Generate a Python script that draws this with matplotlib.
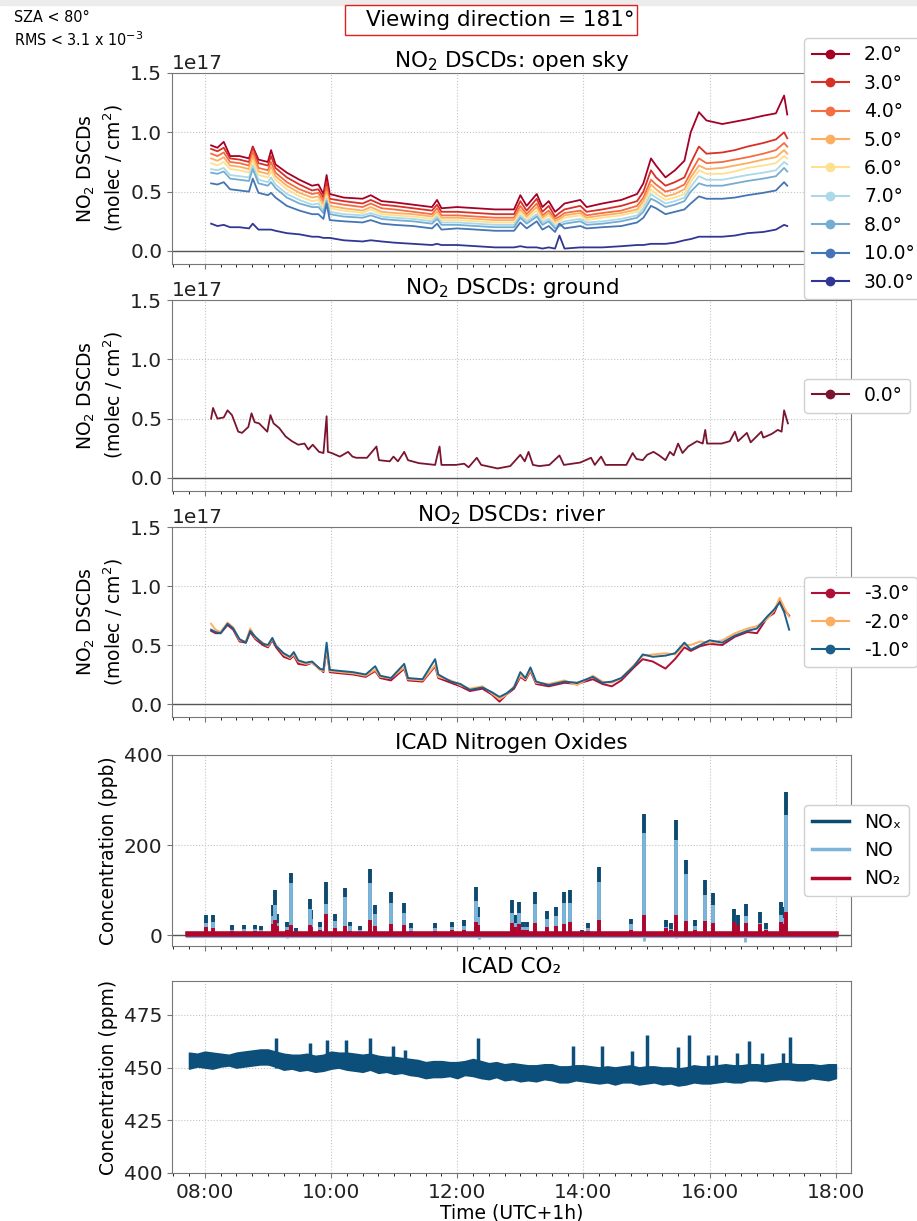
import numpy as np
import matplotlib
matplotlib.use('Agg')
import matplotlib.pyplot as plt
from matplotlib.lines import Line2D
from matplotlib.patches import Rectangle
from matplotlib.ticker import MultipleLocator, FuncFormatter

# ---------------- data (time in hours, UTC+1h) ----------------
# NO2 DSCDs open sky, values in 1e17 molec/cm2
t_sky = [8.10, 8.20, 8.30, 8.40, 8.55, 8.70, 8.76, 8.85, 9.00, 9.05, 9.12, 9.30, 9.50, 9.70, 9.80,
         9.88, 9.93, 9.98, 10.20, 10.50, 10.63, 10.80, 11.00, 11.30, 11.60, 11.68, 11.75, 12.00, 12.30, 12.60,
         12.90, 13.00, 13.10, 13.26, 13.35, 13.45, 13.55, 13.62, 13.70, 13.95, 14.05, 14.30, 14.60, 14.85, 14.95,
         15.07, 15.15, 15.30, 15.45, 15.60, 15.70, 15.83, 15.95, 16.20, 16.40, 16.60, 16.85, 17.05, 17.18, 17.23]
sky_angles = ['2.0°', '3.0°', '4.0°', '5.0°', '6.0°', '7.0°', '8.0°', '10.0°', '30.0°']
sky_colors = ['#a50026', '#d73027', '#f46d43', '#fdae61', '#fee090', '#abd9e9', '#74add1', '#4575b4', '#313695']
sky_2 = [0.89, 0.87, 0.92, 0.80, 0.80, 0.78, 0.88, 0.77, 0.75, 0.85, 0.73, 0.66, 0.60, 0.55, 0.56,
         0.48, 0.64, 0.48, 0.45, 0.44, 0.47, 0.42, 0.41, 0.39, 0.37, 0.43, 0.36, 0.37, 0.36, 0.35,
         0.35, 0.47, 0.38, 0.48, 0.37, 0.42, 0.33, 0.36, 0.40, 0.43, 0.37, 0.40, 0.43, 0.48, 0.57,
         0.78, 0.72, 0.62, 0.68, 0.76, 1.00, 1.17, 1.10, 1.07, 1.09, 1.11, 1.14, 1.16, 1.31, 1.15]
sky_3 = [0.86, 0.84, 0.87, 0.78, 0.77, 0.75, 0.87, 0.74, 0.72, 0.80, 0.70, 0.62, 0.56, 0.51, 0.52,
         0.45, 0.58, 0.44, 0.42, 0.40, 0.43, 0.39, 0.38, 0.36, 0.34, 0.39, 0.33, 0.33, 0.32, 0.31,
         0.31, 0.42, 0.34, 0.44, 0.33, 0.38, 0.29, 0.32, 0.35, 0.38, 0.33, 0.35, 0.38, 0.42, 0.50,
         0.68, 0.62, 0.55, 0.58, 0.62, 0.74, 0.88, 0.82, 0.83, 0.85, 0.88, 0.91, 0.94, 1.00, 0.95]
sky_4 = [0.82, 0.80, 0.83, 0.75, 0.74, 0.72, 0.84, 0.70, 0.68, 0.75, 0.66, 0.58, 0.52, 0.48, 0.49,
         0.42, 0.54, 0.41, 0.39, 0.37, 0.40, 0.36, 0.35, 0.33, 0.31, 0.36, 0.30, 0.30, 0.29, 0.28,
         0.28, 0.38, 0.31, 0.40, 0.30, 0.34, 0.27, 0.29, 0.32, 0.34, 0.30, 0.32, 0.34, 0.38, 0.45,
         0.60, 0.56, 0.50, 0.52, 0.56, 0.66, 0.78, 0.74, 0.75, 0.77, 0.79, 0.82, 0.85, 0.91, 0.88]
sky_5 = [0.78, 0.76, 0.79, 0.72, 0.71, 0.69, 0.80, 0.67, 0.65, 0.71, 0.63, 0.55, 0.49, 0.45, 0.46,
         0.39, 0.50, 0.38, 0.36, 0.34, 0.37, 0.33, 0.32, 0.31, 0.29, 0.33, 0.28, 0.28, 0.27, 0.26,
         0.26, 0.35, 0.29, 0.37, 0.28, 0.32, 0.25, 0.27, 0.30, 0.32, 0.28, 0.30, 0.32, 0.35, 0.42,
         0.56, 0.52, 0.46, 0.48, 0.52, 0.62, 0.72, 0.69, 0.70, 0.72, 0.74, 0.77, 0.79, 0.85, 0.82]
sky_6 = [0.74, 0.72, 0.75, 0.69, 0.68, 0.66, 0.76, 0.64, 0.62, 0.67, 0.60, 0.52, 0.46, 0.42, 0.43,
         0.37, 0.47, 0.36, 0.34, 0.32, 0.35, 0.31, 0.30, 0.29, 0.27, 0.31, 0.26, 0.26, 0.25, 0.24,
         0.24, 0.33, 0.27, 0.34, 0.26, 0.30, 0.23, 0.25, 0.28, 0.30, 0.26, 0.28, 0.30, 0.33, 0.39,
         0.52, 0.48, 0.43, 0.45, 0.48, 0.58, 0.68, 0.65, 0.65, 0.67, 0.70, 0.72, 0.74, 0.80, 0.78]
sky_7 = [0.69, 0.68, 0.70, 0.64, 0.63, 0.62, 0.72, 0.60, 0.58, 0.62, 0.56, 0.48, 0.43, 0.39, 0.40,
         0.34, 0.44, 0.33, 0.31, 0.30, 0.32, 0.29, 0.28, 0.27, 0.25, 0.29, 0.24, 0.24, 0.23, 0.22,
         0.22, 0.30, 0.25, 0.31, 0.24, 0.27, 0.21, 0.23, 0.25, 0.27, 0.24, 0.25, 0.27, 0.30, 0.36,
         0.48, 0.45, 0.40, 0.42, 0.45, 0.54, 0.63, 0.60, 0.60, 0.62, 0.64, 0.66, 0.68, 0.75, 0.73]
sky_8 = [0.66, 0.65, 0.67, 0.61, 0.60, 0.59, 0.69, 0.57, 0.55, 0.58, 0.53, 0.45, 0.40, 0.37, 0.37,
         0.32, 0.42, 0.31, 0.29, 0.28, 0.30, 0.27, 0.26, 0.25, 0.23, 0.27, 0.22, 0.22, 0.21, 0.20,
         0.20, 0.28, 0.23, 0.29, 0.22, 0.25, 0.19, 0.21, 0.23, 0.25, 0.22, 0.23, 0.25, 0.28, 0.33,
         0.44, 0.42, 0.37, 0.39, 0.42, 0.50, 0.57, 0.55, 0.55, 0.57, 0.59, 0.61, 0.63, 0.70, 0.67]
sky_10 = [0.57, 0.56, 0.58, 0.52, 0.51, 0.50, 0.61, 0.49, 0.47, 0.49, 0.45, 0.38, 0.34, 0.31, 0.31,
          0.27, 0.40, 0.26, 0.25, 0.24, 0.26, 0.23, 0.22, 0.21, 0.19, 0.23, 0.18, 0.19, 0.18, 0.17,
          0.17, 0.24, 0.19, 0.25, 0.18, 0.21, 0.16, 0.23, 0.19, 0.21, 0.19, 0.20, 0.21, 0.24, 0.28,
          0.38, 0.36, 0.31, 0.33, 0.35, 0.40, 0.46, 0.44, 0.44, 0.45, 0.47, 0.49, 0.51, 0.58, 0.55]
sky_30 = [0.23, 0.21, 0.22, 0.20, 0.20, 0.19, 0.23, 0.18, 0.18, 0.18, 0.17, 0.15, 0.14, 0.12, 0.12,
          0.11, 0.11, 0.11, 0.09, 0.08, 0.09, 0.08, 0.07, 0.06, 0.05, 0.06, 0.05, 0.05, 0.04, 0.03,
          0.03, 0.04, 0.03, 0.03, 0.02, 0.03, 0.02, 0.13, 0.02, 0.03, 0.03, 0.03, 0.04, 0.05, 0.05,
          0.06, 0.06, 0.06, 0.07, 0.09, 0.10, 0.12, 0.12, 0.12, 0.13, 0.15, 0.16, 0.18, 0.22, 0.21]
sky_series = [sky_2, sky_3, sky_4, sky_5, sky_6, sky_7, sky_8, sky_10, sky_30]

# NO2 DSCDs ground (0.0°)
t_gnd = [8.10, 8.13, 8.20, 8.30, 8.36, 8.43, 8.53, 8.59, 8.69, 8.74, 8.79, 8.86, 8.99, 9.04, 9.09,
         9.18, 9.28, 9.38, 9.48, 9.58, 9.64, 9.71, 9.81, 9.88, 9.93, 9.95, 10.01, 10.14, 10.27, 10.34,
         10.40, 10.57, 10.72, 10.76, 10.93, 10.99, 11.06, 11.16, 11.22, 11.39, 11.65, 11.68, 11.72, 11.75, 11.98,
         12.11, 12.18, 12.31, 12.38, 12.64, 12.84, 13.00, 13.07, 13.13, 13.20, 13.30, 13.46, 13.62, 13.69, 13.95,
         14.12, 14.18, 14.28, 14.35, 14.68, 14.78, 14.84, 14.94, 15.01, 15.11, 15.20, 15.30, 15.37, 15.43, 15.50,
         15.57, 15.66, 15.80, 15.89, 15.93, 15.96, 16.19, 16.32, 16.40, 16.45, 16.59, 16.65, 16.82, 16.85, 16.98,
         17.08, 17.14, 17.18, 17.24]
gnd_0 = [0.50, 0.59, 0.50, 0.51, 0.57, 0.53, 0.39, 0.38, 0.43, 0.545, 0.47, 0.46, 0.39, 0.53, 0.46,
         0.42, 0.35, 0.31, 0.28, 0.29, 0.24, 0.28, 0.22, 0.21, 0.52, 0.22, 0.21, 0.18, 0.22, 0.18,
         0.17, 0.17, 0.265, 0.15, 0.14, 0.18, 0.14, 0.22, 0.15, 0.125, 0.11, 0.18, 0.265, 0.11, 0.11,
         0.12, 0.09, 0.17, 0.11, 0.08, 0.10, 0.195, 0.14, 0.22, 0.11, 0.10, 0.11, 0.19, 0.11, 0.13,
         0.17, 0.11, 0.18, 0.11, 0.11, 0.21, 0.16, 0.15, 0.195, 0.22, 0.19, 0.15, 0.22, 0.19, 0.29,
         0.21, 0.265, 0.31, 0.29, 0.405, 0.29, 0.29, 0.31, 0.39, 0.31, 0.38, 0.30, 0.39, 0.34, 0.37,
         0.405, 0.39, 0.57, 0.46]

# NO2 DSCDs river (negative elevation angles)
t_riv = [8.10, 8.17, 8.25, 8.36, 8.45, 8.55, 8.65, 8.72, 8.80, 8.92, 9.00, 9.07, 9.13, 9.25, 9.35,
         9.41, 9.48, 9.60, 9.70, 9.82, 9.88, 9.93, 9.98, 10.15, 10.35, 10.55, 10.70, 10.78, 10.95, 11.16,
         11.22, 11.45, 11.65, 11.70, 11.90, 12.05, 12.20, 12.40, 12.55, 12.67, 12.78, 12.90, 13.00, 13.08, 13.16,
         13.25, 13.45, 13.70, 13.90, 14.15, 14.30, 14.45, 14.60, 14.80, 14.94, 15.10, 15.30, 15.45, 15.60, 15.70,
         15.85, 16.00, 16.20, 16.40, 16.60, 16.75, 16.91, 17.02, 17.11, 17.18, 17.26]
riv_m3 = [0.62, 0.60, 0.60, 0.67, 0.63, 0.53, 0.52, 0.61, 0.55, 0.50, 0.48, 0.54, 0.48, 0.40, 0.38,
          0.41, 0.34, 0.33, 0.35, 0.30, 0.27, 0.46, 0.27, 0.26, 0.25, 0.23, 0.28, 0.22, 0.20, 0.30,
          0.20, 0.19, 0.32, 0.22, 0.18, 0.15, 0.11, 0.13, 0.08, 0.02, 0.08, 0.13, 0.23, 0.20, 0.28,
          0.17, 0.15, 0.18, 0.17, 0.21, 0.17, 0.15, 0.20, 0.31, 0.38, 0.36, 0.30, 0.38, 0.48, 0.45,
          0.49, 0.51, 0.50, 0.57, 0.61, 0.60, 0.73, 0.77, 0.88, 0.80, 0.75]
riv_m2 = [0.68, 0.63, 0.61, 0.69, 0.65, 0.54, 0.53, 0.64, 0.56, 0.52, 0.49, 0.55, 0.50, 0.42, 0.39,
          0.42, 0.36, 0.34, 0.35, 0.29, 0.28, 0.47, 0.28, 0.27, 0.26, 0.24, 0.29, 0.23, 0.22, 0.31,
          0.21, 0.20, 0.33, 0.23, 0.20, 0.16, 0.13, 0.15, 0.09, 0.04, 0.08, 0.15, 0.24, 0.21, 0.29,
          0.18, 0.17, 0.20, 0.16, 0.24, 0.19, 0.18, 0.22, 0.33, 0.41, 0.42, 0.43, 0.42, 0.50, 0.50,
          0.53, 0.52, 0.54, 0.60, 0.64, 0.66, 0.72, 0.79, 0.90, 0.82, 0.74]
riv_m1 = [0.63, 0.61, 0.60, 0.68, 0.64, 0.55, 0.52, 0.62, 0.57, 0.51, 0.50, 0.56, 0.49, 0.43, 0.40,
          0.44, 0.37, 0.35, 0.36, 0.30, 0.29, 0.52, 0.29, 0.28, 0.27, 0.25, 0.32, 0.24, 0.22, 0.34,
          0.22, 0.21, 0.38, 0.25, 0.19, 0.17, 0.12, 0.14, 0.10, 0.06, 0.09, 0.14, 0.27, 0.22, 0.31,
          0.19, 0.16, 0.19, 0.18, 0.23, 0.18, 0.19, 0.22, 0.32, 0.42, 0.40, 0.41, 0.43, 0.52, 0.46,
          0.50, 0.54, 0.52, 0.58, 0.62, 0.64, 0.74, 0.80, 0.86, 0.78, 0.63]
riv_angles = ['-3.0°', '-2.0°', '-1.0°']
riv_colors = ['#b01035', '#fdae61', '#1b5f8a']

# ICAD NOx (ppb): background level plus individual plumes
icad_start, icad_end = 7.74, 18.0
nox_base, no_base, no2_base = 3, -1, 3
spike_t = [8.02, 8.13, 8.43, 8.62, 8.79, 8.89, 9.08, 9.11, 9.14, 9.31, 9.36, 9.44, 9.66, 9.69, 9.82,
           9.92, 10.07, 10.22, 10.30, 10.46, 10.61, 10.69, 10.95, 11.16, 11.26, 11.64, 11.92, 12.10, 12.30, 12.33,
           12.87, 12.92, 12.98, 13.05, 13.11, 13.23, 13.43, 13.57, 13.69, 13.79, 13.97, 14.08, 14.25, 14.75, 14.96,
           15.31, 15.39, 15.46, 15.63, 15.77, 15.93, 16.05, 16.39, 16.45, 16.58, 16.80, 16.89, 17.13, 17.17, 17.21]
spike_nox = [44, 44, 22, 22, 22, 20, 67, 100, 48, 30, 138, 15, 81, 55, 30,
             118, 47, 104, 30, 20, 148, 67, 96, 72, 26, 26, 30, 33, 107, 63,
             78, 44, 74, 30, 30, 96, 54, 63, 96, 101, 11, 26, 152, 37, 270,
             33, 26, 256, 167, 33, 122, 94, 59, 44, 70, 52, 26, 74, 63, 318]
spike_no2 = [18, 15, 10, 8, 9, 8, 25, 33, 20, 12, 22, 8, 22, 18, 12,
             48, 15, 20, 10, 8, 33, 20, 25, 22, 10, 10, 12, 12, 30, 22,
             28, 18, 25, 12, 12, 26, 18, 20, 25, 30, 6, 10, 33, 12, 44,
             15, 12, 44, 32, 12, 32, 28, 30, 22, 28, 25, 12, 30, 25, 52]
no_dip_t = [9.30, 12.35, 14.96, 15.46, 16.56]
no_dip_v = [-6, -8, -12, -6, -15]

# ICAD CO2 (ppm): noise envelope and plumes
t_co2 = [7.75, 7.88, 8.00, 8.12, 8.25, 8.38, 8.50, 8.62, 8.75, 8.88, 9.00, 9.12, 9.25, 9.38, 9.50, 9.62,
         9.75, 9.88, 10.00, 10.12, 10.25, 10.38, 10.50, 10.62, 10.75, 10.88, 11.00, 11.12, 11.25, 11.38, 11.50,
         11.62, 11.75, 11.88, 12.00, 12.12, 12.25, 12.38, 12.50, 12.62, 12.75, 12.88, 13.00, 13.12, 13.25, 13.38,
         13.50, 13.62, 13.75, 13.88, 14.00, 14.12, 14.25, 14.38, 14.50, 14.62, 14.75, 14.88, 15.00, 15.12, 15.25,
         15.38, 15.50, 15.62, 15.75, 15.88, 16.00, 16.12, 16.25, 16.38, 16.50, 16.62, 16.75, 16.88, 17.00, 17.12,
         17.25, 17.38, 17.50, 17.62, 17.75, 17.88, 18.00]
co2_lo = [449.5, 450.5, 450, 449.5, 450.5, 451, 450, 450.5, 451, 451.5, 451.5, 450.5, 449, 449.5, 448.5, 449,
          448, 448.5, 449.5, 450, 449, 448.5, 448, 449, 447.5, 448, 447, 447.5, 446.5, 446, 445,
          445.5, 445.5, 446, 445, 446.5, 446, 445, 444.5, 445.5, 444, 444.5, 443.5, 444, 443.5, 444.5,
          444, 443, 443, 444, 443.5, 443, 442.5, 443, 442, 443, 443, 442, 442.5, 443, 442,
          442.5, 441.5, 442, 443, 442.5, 442.5, 443, 443.5, 443, 443, 444, 444, 443.5, 444, 444.5,
          444.5, 444, 444, 445, 444.5, 444, 445]
co2_hi = [457, 456.5, 457.5, 457, 456.5, 456, 457, 457.5, 458, 458.5, 458.5, 457.5, 456.5, 456, 456, 456.5,
          455.5, 456, 457.5, 457, 457, 456.5, 456, 456.5, 455.5, 455, 455, 454.5, 454, 453.5, 452.5,
          453, 453, 452.5, 452.5, 453, 454, 453, 452, 452.5, 451.5, 452, 451.5, 451, 451, 451.5,
          451.5, 450.5, 450.5, 451, 451, 450.5, 450, 450.5, 450, 450.5, 451, 450, 450.5, 450.5, 450,
          450, 449.5, 450, 451, 450.5, 450.5, 451, 451.5, 451, 451, 451.5, 451.5, 451, 451.5, 452,
          452, 451.5, 451.5, 451.5, 451, 451.5, 451.5]
co2_spike_t = [9.13, 9.67, 9.94, 10.23, 10.62, 10.98, 11.18, 12.33, 13.84, 14.29, 14.77, 15.00, 15.50, 15.67,
               15.98, 16.10, 16.43, 16.63, 16.83, 17.16, 17.27]
co2_spike_v = [464, 461.5, 463, 463, 464, 460, 458.5, 464, 460, 460, 458, 465.5, 459.5, 465.5,
               456, 456, 457, 462.5, 457, 457, 464.5]

# ---------------- plotting ----------------
W, H = 917, 1221
fig = plt.figure(figsize=(W / 100, H / 100), dpi=100)


def make_ax(top, bottom):
    ax = fig.add_axes([172 / W, 1 - bottom / H, (851 - 172) / W, (bottom - top) / H])
    for s in ax.spines.values():
        s.set_color('#777777')
    ax.tick_params(colors='#777777', labelcolor='#222222', labelsize=14.5)
    ax.xaxis.set_major_locator(MultipleLocator(2))
    ax.xaxis.set_minor_locator(MultipleLocator(0.25))
    ax.xaxis.set_major_formatter(FuncFormatter(lambda x, p: '%02d:%02d' % (int(x), round((x % 1) * 60))))
    ax.set_xlim(7.48, 18.24)
    ax.grid(True, which='major', linestyle=':', color='#c4c4c4', linewidth=0.8)
    ax.set_axisbelow(True)
    return ax


def dscd_ax(ax, title):
    ax.axhline(0, color='#555555', lw=1)
    ax.set_ylim(-0.11e17, 1.5e17)
    ax.set_yticks([0, 0.5e17, 1.0e17, 1.5e17])
    ax.yaxis.get_offset_text().set_fontsize(14.5)
    ax.set_title(title, fontsize=15.5, pad=2)
    ax.set_ylabel('NO$_2$ DSCDs\n(molec / cm$^2$)', fontsize=13.5)
    ax.tick_params(labelbottom=False)


def dot_handles(colors, labels):
    return [Line2D([0], [0], color=c, lw=1.5, marker='o', markersize=6, label=l) for c, l in zip(colors, labels)]


leg_kw = dict(loc='center left', bbox_to_anchor=(0.917, 0.5), fontsize=13.5, framealpha=1, edgecolor='#d0d0d0')

# open sky
ax1 = make_ax(73, 264)
for vals, c in zip(sky_series, sky_colors):
    ax1.plot(t_sky, np.array(vals) * 1e17, color=c, lw=1.3)
dscd_ax(ax1, 'NO$_2$ DSCDs: open sky')
ax1.legend(handles=dot_handles(sky_colors, sky_angles), **leg_kw)

# ground
ax2 = make_ax(300, 491)
ax2.plot(t_gnd, np.array(gnd_0) * 1e17, color='#7a1530', lw=1.3)
dscd_ax(ax2, 'NO$_2$ DSCDs: ground')
ax2.legend(handles=dot_handles(['#7a1530'], ['0.0°']), **leg_kw)

# river
ax3 = make_ax(527, 717)
for vals, c in zip([riv_m3, riv_m2, riv_m1], riv_colors):
    ax3.plot(t_riv, np.array(vals) * 1e17, color=c, lw=1.4)
dscd_ax(ax3, 'NO$_2$ DSCDs: river')
ax3.legend(handles=dot_handles(riv_colors, riv_angles), **leg_kw)

# ICAD NOx
c_nox, c_no, c_no2 = '#0d4a70', '#7db4da', '#b0062d'
ax4 = make_ax(755, 946)
ax4.axhline(0, color='#555555', lw=1)
spike_no = np.array(spike_nox) - np.array(spike_no2)
ax4.plot([icad_start, icad_end], [nox_base, nox_base], color=c_nox, lw=3)
ax4.vlines(spike_t, 0, spike_nox, color=c_nox, lw=2.8)
ax4.plot([icad_start, icad_end], [no_base, no_base], color=c_no, lw=3)
ax4.vlines(spike_t, 0, spike_no, color=c_no, lw=2.8)
ax4.vlines(no_dip_t, 0, no_dip_v, color=c_no, lw=2)
ax4.plot([icad_start, icad_end], [no2_base, no2_base], color=c_no2, lw=4)
ax4.vlines(spike_t, 0, spike_no2, color=c_no2, lw=2.8)
ax4.set_ylim(-24, 400)
ax4.set_yticks([0, 200, 400])
ax4.set_title('ICAD Nitrogen Oxides', fontsize=15.5, pad=4)
ax4.set_ylabel('Concentration (ppb)', fontsize=13.5)
ax4.tick_params(labelbottom=False)
nox_handles = [Line2D([0], [0], color=c, lw=2.5, label=l)
               for c, l in zip([c_nox, c_no, c_no2], ['NOₓ', 'NO', 'NO₂'])]
ax4.legend(handles=nox_handles, **leg_kw)

# ICAD CO2
c_co2 = '#0b4f7a'
ax5 = make_ax(981, 1173)
ax5.fill_between(t_co2, co2_lo, co2_hi, color=c_co2, lw=1.2, edgecolor=c_co2)
ax5.vlines(co2_spike_t, 450, co2_spike_v, color=c_co2, lw=2.5)
ax5.set_ylim(400, 491)
ax5.set_yticks([400, 425, 450, 475])
ax5.set_title('ICAD CO₂', fontsize=15.5, pad=6)
ax5.set_ylabel('Concentration (ppm)', fontsize=13.5)
ax5.set_xlabel('Time (UTC+1h)', fontsize=13.5, labelpad=1)

# header annotations
fig.patches.append(Rectangle((0, 1 - 5 / H), 1, 5 / H, transform=fig.transFigure, color='#ececec', zorder=0))
fig.text(14 / W, 1 - 18 / H, 'SZA < 80°', fontsize=11.5, va='center', family='DejaVu Sans', stretch='condensed')
fig.text(14 / W, 1 - 40 / H, 'RMS < 3.1 x 10$^{-3}$', fontsize=11.5, va='center', family='DejaVu Sans',
         stretch='condensed')
fig.patches.append(Rectangle((345 / W, 1 - 35 / H), 292 / W, 30 / H, transform=fig.transFigure,
                             fill=False, edgecolor='#e02020', lw=1))
fig.text(634 / W, 1 - 20 / H, 'Viewing direction = 181°', fontsize=15.5, ha='right', va='center')

fig.savefig('out.png', dpi=100)
